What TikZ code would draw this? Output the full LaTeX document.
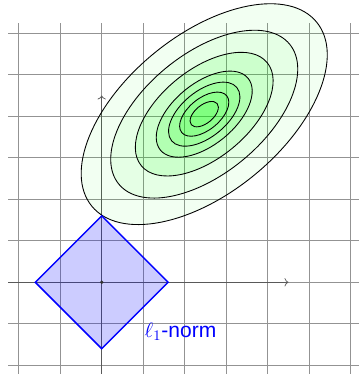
\documentclass[tikz,border=0pt]{standalone}
\usepackage{fontspec}
\setsansfont{Liberation Sans}
\usetikzlibrary{arrows.meta}

\begin{document}
\begin{tikzpicture}[
      gridline/.style={gray!85, line width=0.5pt},
      axis/.style={->, gray!70!black, line width=0.5pt},
      contour/.style={draw=black, semithick, fill=green},
      ball/.style={draw=blue, line width=1pt, fill=blue, fill opacity=0.2, line join=miter}
    ]
      \useasboundingbox (-2.45,-2.21) rectangle (6.18,6.8);
      \draw[gridline] (-2.25,-2.25) grid (6.25,6.25);

      \coordinate (O) at (0,0);
      \coordinate (xl) at (-2.25,0);
      \coordinate (xr) at (4.5,0);
      \coordinate (yb) at (0,-2.25);
      \coordinate (yt) at (0,4.5);
      \draw[axis] (xl) -- (xr);
      \draw[axis] (yb) -- (yt);

      \coordinate (mu) at (2.47,4.05);
      \foreach \s/\o in {1/0.05, 0.76/0.055, 0.56/0.11, 0.39/0.125, 0.29/0.115, 0.2/0.11, 0.115/0.09}
        \draw[contour, fill opacity=\o, rotate around={39.3:(mu)}] (mu) ellipse [x radius=3.5*\s, y radius=1.9*\s];

      \draw[ball] (1.6,0) -- (0,1.6) -- (-1.6,0) -- (0,-1.6) -- cycle;
      \fill[black!80] (O) circle (0.045);

      \node[blue, font=\sffamily\Large, anchor=base west, inner sep=0pt] (norm) at (1.03,-1.335) {$\ell_1$-norm};
    \end{tikzpicture}
\end{document}
